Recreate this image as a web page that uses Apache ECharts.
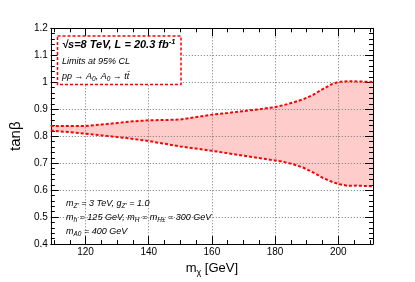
<!DOCTYPE html>
<html><head><meta charset="utf-8">
<script src="https://cdn.jsdelivr.net/npm/echarts@6/dist/echarts.min.js"></script>
<style>html,body{margin:0;padding:0;background:#fff}#c{width:415px;height:282px}</style>
</head><body><div id="c"></div>
<script>
// Data
const massX = [109,115,120,125,130,135,140,145,150,155,160,165,170,175,180,183,186,189,192,195,198,200,203,206,209,211];
const tanbUpper = [0.838,0.838,0.838,0.843,0.849,0.855,0.859,0.860,0.862,0.871,0.880,0.886,0.893,0.900,0.908,0.916,0.926,0.937,0.953,0.974,0.993,1.001,1.004,1.003,1.002,1.001];
const tanbLower = [0.821,0.815,0.809,0.803,0.797,0.790,0.782,0.772,0.762,0.754,0.746,0.737,0.728,0.719,0.710,0.704,0.695,0.683,0.666,0.646,0.631,0.623,0.616,0.617,0.615,0.614];
const xMajorTicks = [120,140,160,180,200];
const xMinorTicks = [110,115,125,130,135,145,150,155,165,170,175,185,190,195,205,210];

const FONT = '"Liberation Sans", Arial, Helvetica, sans-serif';
const RED = '#ff0000';
const bandData = massX.map((x,i)=>[x, tanbLower[i], tanbUpper[i]]);
const lowerPts = massX.map((x,i)=>[x, tanbLower[i]]);
const upperPts = massX.map((x,i)=>[x, tanbUpper[i]]);

const gridLine = {show:true, lineStyle:{color:'#777', width:1, type:[1,2]}};
const baseX = {type:'value', min:109, max:211, gridIndex:0, z:2};
const chart = echarts.init(document.getElementById('c'), null, {renderer:'canvas'});

const subStyle = {fontSize:6.5, fontStyle:'italic', fontFamily:FONT, fill:'#000', color:'#000', padding:[6,0,0,0]};
const normStyle = {fontSize:9, fontStyle:'italic', fontFamily:FONT, fill:'#000', color:'#000', lineHeight:14};

function txt(x, y, text, extra) {
  return {
    type:'text', x:x, y:y, z:20,
    style: Object.assign({
      text:text, fill:'#000', font:'italic 9px ' + FONT,
      align:'left', verticalAlign:'middle', textAlign:'left', textVerticalAlign:'middle',
      rich:{ n:normStyle, s:subStyle }
    }, extra || {})
  };
}

function renderBand(params, api) {
  if (params.dataIndex !== 0) return null;
  const pts = [];
  for (let i = 0; i < bandData.length; i++) pts.push(api.coord([bandData[i][0], bandData[i][2]]));
  for (let i = bandData.length - 1; i >= 0; i--) pts.push(api.coord([bandData[i][0], bandData[i][1]]));
  return {type:'polygon', shape:{points:pts}, style:{fill:'#ffcccc', stroke:'none'}};
}

chart.setOption({
  animation:false,
  backgroundColor:'#fff',
  grid:{left:41.7, right:42, top:28.3, bottom:28.7, containLabel:false},
  xAxis:[
    Object.assign({}, baseX, {
      position:'bottom',
      axisLine:{show:true, onZero:false, lineStyle:{color:'#000', width:1}},
      axisTick:{show:true, inside:true, length:8, customValues:xMajorTicks, lineStyle:{color:'#000'}},
      axisLabel:{show:true, customValues:xMajorTicks, fontSize:10, color:'#000', fontFamily:FONT, margin:3},
      splitLine:gridLine,
      name:'{a|m}{s|χ}{a| [GeV]}', nameLocation:'middle', nameGap:13,
      nameTextStyle:{rich:{a:{fontSize:13, fontFamily:FONT, color:'#000'}, s:{fontSize:9, fontFamily:FONT, color:'#000', padding:[8,0,0,0]}}}
    }),
    Object.assign({}, baseX, {
      position:'bottom', axisLine:{show:false, onZero:false},
      axisTick:{show:true, inside:true, length:4, customValues:xMinorTicks, lineStyle:{color:'#000'}},
      axisLabel:{show:false}, splitLine:{show:false}
    }),
    Object.assign({}, baseX, {
      position:'top',
      axisLine:{show:true, onZero:false, lineStyle:{color:'#000', width:1}},
      axisTick:{show:true, inside:true, length:8, customValues:xMajorTicks, lineStyle:{color:'#000'}},
      axisLabel:{show:false}, splitLine:{show:false}
    }),
    Object.assign({}, baseX, {
      position:'top', axisLine:{show:false, onZero:false},
      axisTick:{show:true, inside:true, length:4, customValues:xMinorTicks, lineStyle:{color:'#000'}},
      axisLabel:{show:false}, splitLine:{show:false}
    })
  ],
  yAxis:[
    {
      type:'value', min:0.4, max:1.2, interval:0.1, position:'left', z:2,
      axisLine:{show:true, onZero:false, lineStyle:{color:'#000', width:1}},
      axisTick:{show:true, inside:true, length:8, lineStyle:{color:'#000'}},
      minorTick:{show:true, splitNumber:5, length:4, lineStyle:{color:'#000'}},
      axisLabel:{fontSize:10, color:'#000', fontFamily:FONT, margin:3},
      splitLine:gridLine,
      name:'tanβ', nameLocation:'middle', nameRotate:90, nameGap:22,
      nameTextStyle:{fontSize:15, fontFamily:FONT, color:'#000'}
    },
    {
      type:'value', min:0.4, max:1.2, interval:0.1, position:'right', z:2,
      axisLine:{show:true, onZero:false, lineStyle:{color:'#000', width:1}},
      axisTick:{show:true, inside:true, length:8, lineStyle:{color:'#000'}},
      minorTick:{show:true, splitNumber:5, length:4, lineStyle:{color:'#000'}},
      axisLabel:{show:false}, splitLine:{show:false}
    }
  ],
  series:[
    {type:'custom', name:'band', data:bandData, z:1, xAxisIndex:0, yAxisIndex:0,
     encode:{x:0, y:[1,2]}, renderItem:renderBand, clip:true},
    {type:'line', name:'lower', data:lowerPts, symbol:'none', z:3, xAxisIndex:0, yAxisIndex:0,
     lineStyle:{color:RED, width:2, type:[3,2]}},
    {type:'line', name:'upper', data:upperPts, symbol:'none', z:3, xAxisIndex:0, yAxisIndex:0,
     lineStyle:{color:RED, width:2, type:[3,2]}}
  ],
  graphic:[
    {type:'rect', z:15, shape:{x:57.5, y:36, width:123.5, height:48.5},
     style:{fill:'#fff', stroke:RED, lineWidth:1.5, lineDash:[3,2]}},
    txt(62, 45, '√s=8 TeV, L = 20.3 fb{sup|-1}', {font:'italic bold 11px ' + FONT,
      rich:{sup:{fontSize:7.5, fontStyle:'italic', fontWeight:'bold', fontFamily:FONT, fill:'#000', padding:[0,0,7,0]}}}),
    txt(62, 61, 'Limits at 95% CL'),
    txt(62, 76, 'pp → A{s|0}, A{s|0} → tt\u0304'),
    txt(66, 203, 'm{s|Z\'} = 3 TeV, g{s|Z\'} = 1.0'),
    txt(66, 217, 'm{s|h} = 125 GeV, m{s|H} = m{s|H±} = 300 GeV'),
    txt(66, 231, 'm{s|A0} = 400 GeV')
  ]
});
</script></body></html>
